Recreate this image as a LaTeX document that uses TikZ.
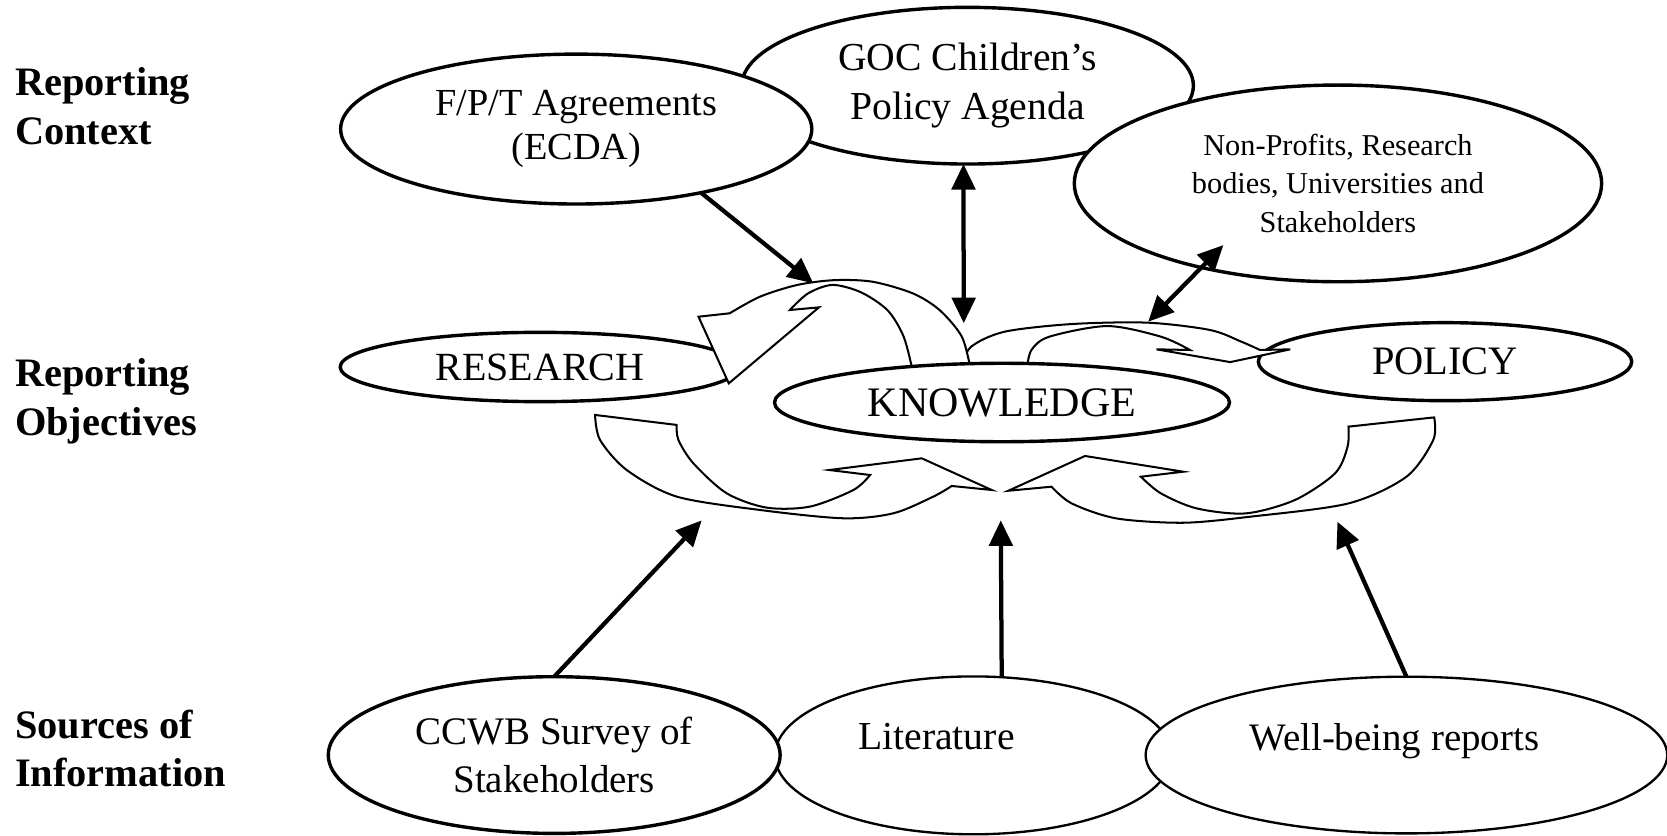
\documentclass[tikz,border=0pt]{standalone}
\usepackage{fontspec}
\setmainfont{Liberation Serif}
\usetikzlibrary{shapes.geometric,arrows.meta}
\begin{document}
\begin{tikzpicture}[x=1pt,y=-1pt,
  ell/.style={shape=ellipse, draw, line width=3.2pt, fill=white, inner sep=0pt, outer sep=0pt, align=center},
  thinell/.style={ell, line width=2.2pt},
  blk/.style={draw, fill=white, line width=1.9pt, line join=miter},
  arr/.style={line width=4pt, -{Triangle[length=24pt,width=22pt]}},
  darr/.style={line width=4pt, {Triangle[length=24pt,width=22pt]}-{Triangle[length=24pt,width=22pt]}},
  lab/.style={anchor=west, align=left, inner sep=0pt, font=\fontsize{38}{46}\selectfont\bfseries},
  txt/.style={inner sep=0pt, align=center}
]
\useasboundingbox[fill=white] (0,0) rectangle (1568,786);

% ---- top row ----
\node[ell, minimum width=424.8pt, minimum height=147.4pt, font=\fontsize{37.3}{45.7}\selectfont] (goc) at (910.1,80.6) {GOC Children’s\\Policy Agenda};
\node[ell, minimum width=443.2pt, minimum height=141pt, font=\fontsize{36}{41}\selectfont] (fpt) at (542,121.4) {F/P/T Agreements\\(ECDA)};
\node[ell, minimum width=496pt, minimum height=185pt, font=\fontsize{28.5}{36.5}\selectfont] (np) at (1258.5,172.5) {Non-Profits, Research\\bodies, Universities and\\Stakeholders};

% ---- middle row ----
\node[ell, minimum width=376pt, minimum height=65.2pt, font=\fontsize{37.6}{44}\selectfont] (res) at (508,345.2) {RESEARCH};
\node[ell, minimum width=351.2pt, minimum height=73.4pt, font=\fontsize{38}{44}\selectfont] (pol) at (1359.2,340.2) {POLICY};

% curved block arrow B (knowledge -> policy)
\path[blk] (903,346) -- plot[smooth] coordinates {(903,346) (913.5,326.1) (945.0,312.0) (1008.0,304.8) (1079.4,303.5) (1138.2,310.4) (1167.6,321.4) (1185.2,329.2)}
  -- (1213.6,328.6) -- (1157.1,340.6) -- (1087.8,328.6) -- (1119.3,329.2)
  -- plot[smooth] coordinates {(1119.3,329.2) (1092,316.7) (1041.6,306.7) (987,316.7) (970.2,329.2) (966,346)} -- cycle;

% curved block arrow A (knowledge -> research)
\path[blk] (913.1,348) -- plot[smooth] coordinates {(913.1,348) (904.7,316.7) (883.7,291.6) (858.5,275.9) (820.7,265) (785,263.5) (750,268) (715,279) (686.3,294.7)}
  -- (657.0,297.9) -- (685.5,360.6) -- (770.3,289.1) -- (743.0,291.6)
  -- plot[smooth] coordinates {(743.0,291.6) (760,276) (783,268) (810,275) (835,292) (850,316.7) (858.5,349)} -- cycle;

\node[ell, minimum width=428pt, minimum height=73.8pt, font=\fontsize{39.5}{44}\selectfont] (kno) at (942.5,378.6) {KNOWLEDGE};

% curved block arrow C (bottom left)
\path[blk] (559.7,390.3) -- plot[smooth] coordinates {(559.7,390.3) (564.4,413.8) (589.5,442.1) (636.5,467.1) (714.9,479.7) (793.3,487.5) (840.3,482.8) (877.9,467.1) (895.2,457.1)}
  -- (932.8,460.9) -- (867.0,431.1) -- (780.1,442.1) -- (818.4,446.8)
  -- plot[smooth] coordinates {(818.4,446.8) (802.7,460.9) (761.9,476.5) (721.2,477.5) (683.5,464.0) (652.2,435.8) (638.1,413.8) (636.5,399.7)} -- cycle;

% curved block arrow D (bottom right)
\path[blk] (1349.0,392.6) -- plot[smooth] coordinates {(1349.0,392.6) (1348.1,413.9) (1322.9,448.4) (1268.4,473.5) (1176.0,486.0) (1113.0,491.7) (1050.0,487.6) (1008.0,473.5) (989.1,457.8)}
  -- (948.4,461.6) -- (1020.6,428.9) -- (1113.0,443.7) -- (1073.1,448.4)
  -- plot[smooth] coordinates {(1073.1,448.4) (1092.0,464.1) (1125.6,478.2) (1171.8,482.9) (1218.0,470.3) (1255.8,445.2) (1267.5,420.2) (1268.4,401.3)} -- cycle;

% ---- bottom row ----
\node[thinell, minimum width=373pt, minimum height=148.5pt] (lit) at (915.5,710.5) {};
\node[ell, minimum width=425pt, minimum height=147.4pt, font=\fontsize{36.7}{45.4}\selectfont] (ccwb) at (521.3,710.2) {CCWB Survey of\\Stakeholders};
\node[thinell, minimum width=490.6pt, minimum height=147.4pt] (wb) at (1322.9,710.2) {};
\node[txt, font=\fontsize{37.3}{44}\selectfont] (littxt) at (880.8,692.8) {Literature};
\node[txt, font=\fontsize{36.6}{44}\selectfont] (wbtxt) at (1311.5,697) {Well-being reports};

% ---- straight arrows ----
\coordinate (tipF) at (765,266.5);
\coordinate (tipG) at (906.5,304);
\coordinate (np1) at (1150.7,230.5);
\coordinate (np2) at (1080,302.6);
\coordinate (tipC) at (660,489.5);
\coordinate (tipL) at (941.3,489.5);
\coordinate (tipW) at (1258,490.7);
\draw[arr] (fpt.-27) -- (tipF);
\draw[darr] (goc.-93) -- (tipG);
\draw[darr] (np1) -- (np2);
\draw[arr] (ccwb.north) -- (tipC);
\draw[arr] (lit.70.7) -- (tipL);
\draw[arr] (wb.north) -- (tipW);

% ---- row labels ----
\node[lab] (l1) at (14,100.1) {Reporting\\Context};
\node[lab] (l2) at (14,377.3) {Reporting\\Objectives};
\node[lab] (l3) at (14,704) {Sources of\\Information};
\end{tikzpicture}
\end{document}
